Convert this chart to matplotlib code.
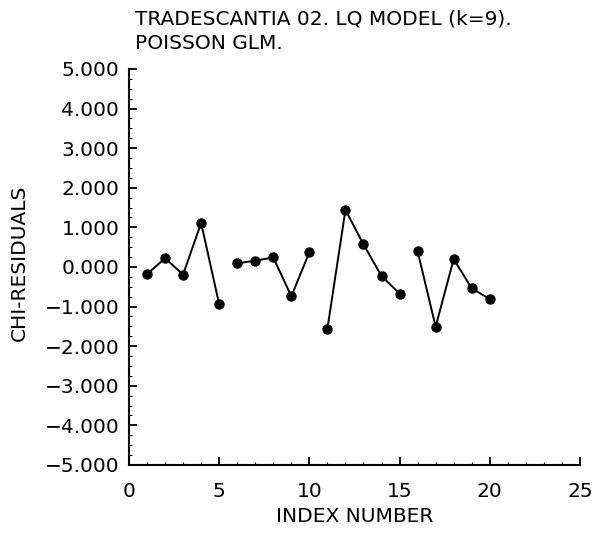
import numpy as np
import matplotlib.pyplot as plt
from matplotlib.ticker import MultipleLocator, FuncFormatter

# chi residuals of the LQ model, four groups of five doses
index_groups = [
    [1, 2, 3, 4, 5],
    [6, 7, 8, 9, 10],
    [11, 12, 13, 14, 15],
    [16, 17, 18, 19, 20],
]
residual_groups = [
    [-0.18, 0.22, -0.19, 1.11, -0.94],
    [0.09, 0.16, 0.24, -0.74, 0.37],
    [-1.56, 1.44, 0.57, -0.23, -0.67],
    [0.40, -1.51, 0.20, -0.54, -0.81],
]

title_lines = ["TRADESCANTIA 02. LQ MODEL (k=9).", "POISSON GLM."]

plt.rcParams['font.family'] = ['DejaVu Sans']
FS = 14.5

fig = plt.figure(figsize=(5.93, 5.33), dpi=100)
ax = fig.add_axes([0.2175, 0.1276, 0.7605, 0.743])

for xs, ys in zip(index_groups, residual_groups):
    ax.plot(xs, ys, color='black', lw=1.4, marker='o', markersize=6.5,
            clip_on=False)

ax.set_xlim(0, 25)
ax.set_ylim(-5, 5)
ax.xaxis.set_major_locator(MultipleLocator(5))
ax.xaxis.set_minor_locator(MultipleLocator(1))
ax.yaxis.set_major_locator(MultipleLocator(1))
ax.yaxis.set_minor_locator(MultipleLocator(0.25))
ax.yaxis.set_major_formatter(
    FuncFormatter(lambda v, pos: f"{v:.3f}".replace('-', '\u2212')))

for side in ['top', 'right']:
    ax.spines[side].set_visible(False)
for side in ['left', 'bottom']:
    ax.spines[side].set_linewidth(1.5)

ax.tick_params(which='major', direction='in', length=6, width=1.3,
               labelsize=FS)
ax.tick_params(axis='x', which='major', pad=12)
ax.tick_params(axis='y', which='major', pad=7)
ax.tick_params(which='minor', direction='in', length=2, width=0.8)

ax.set_xlabel('INDEX NUMBER', fontsize=FS, va='center')
ax.xaxis.set_label_coords(0.5, -0.131)
ax.set_ylabel('CHI-RESIDUALS', fontsize=FS, va='center')
ax.yaxis.set_label_coords(-0.242, 0.51)

fig.text(135 / 593, 1 - 19 / 533, title_lines[0], fontsize=FS,
         ha='left', va='center')
fig.text(135 / 593, 1 - 43 / 533, title_lines[1], fontsize=FS,
         ha='left', va='center')

fig.savefig('out.png', dpi=100)
